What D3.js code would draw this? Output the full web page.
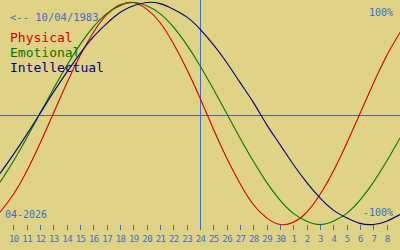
<!DOCTYPE html>
<meta charset="utf-8">
<style>
    html,
    body {
        margin: 0;
        padding: 0;
        background: #e1d386;
    }

    text {
        font-family: "DejaVu Sans Mono", monospace;
    }
</style>
<svg id="canvas" width="400" height="250"></svg>
<script src="https://d3js.org/d3.v7.min.js"></script>
<script>
    // days shown: 9 April 2026 (left edge) .. 9 May 2026 (right edge)
    var days = d3.range(9, 40);
    var tickDays = d3.range(10, 39);
    var tickLabels = ["10", "11", "12", "13", "14", "15", "16", "17", "18", "19", "20",
        "21", "22", "23", "24", "25", "26", "27", "28", "29", "30",
        "1", "2", "3", "4", "5", "6", "7", "8"];
    var today = 24;

    // values in percent, one per day
    var physical = [-89, -73, -52, -27, 0, 27, 52, 73, 89, 98, 100, 94, 82, 63, 40, 14,
        -14, -40, -63, -82, -94, -100, -98, -89, -73, -52, -27, 0, 27, 52, 73];
    var emotional = [-62, -43, -22, 0, 22, 43, 62, 78, 90, 97, 100, 97, 90, 78, 62, 43,
        22, 0, -22, -43, -62, -78, -90, -97, -100, -97, -90, -78, -62, -43, -22];
    var intellectual = [-54, -37, -19, 0, 19, 37, 54, 69, 81, 91, 97, 100, 99, 94, 87, 76,
        62, 46, 28, 10, -10, -28, -46, -62, -76, -87, -94, -99, -100, -97, -91];

    var series = [
        { name: "Physical", values: physical, color: "#d40000" },
        { name: "Emotional", values: emotional, color: "#007800" },
        { name: "Intellectual", values: intellectual, color: "#00007a" }
    ];

    var svg = d3.select("svg"),
        width = +svg.attr("width"),
        height = +svg.attr("height");

    var blue = "#3a6ec4";

    var x = d3.scaleLinear().domain([9, 39]).range([0, width]);
    var y = d3.scaleLinear().domain([-100, 100]).range([224.5, 2.5]);

    // zero line
    svg.append("line")
        .attr("x1", 0).attr("x2", width)
        .attr("y1", 115.5).attr("y2", 115.5)
        .attr("stroke", "#5a6472")
        .attr("stroke-width", 1);

    // today marker
    svg.append("line")
        .attr("x1", x(today) + 0.5).attr("x2", x(today) + 0.5)
        .attr("y1", 0).attr("y2", 230)
        .attr("stroke", blue)
        .attr("stroke-width", 1);

    var line = d3.line()
        .x(function(d, i) { return x(days[i]); })
        .y(function(d) { return y(d); })
        .curve(d3.curveNatural);

    svg.append("g")
        .selectAll("path")
        .data(series)
        .enter().append("path")
        .attr("d", function(s) { return line(s.values); })
        .attr("fill", "none")
        .attr("stroke", function(s) { return s.color; })
        .attr("stroke-width", 1.1);

    // day axis
    var axis = svg.append("g");
    axis.selectAll("line")
        .data(tickDays)
        .enter().append("line")
        .attr("x1", function(d) { return Math.round(x(d)) + 0.5; })
        .attr("x2", function(d) { return Math.round(x(d)) + 0.5; })
        .attr("y1", 225).attr("y2", 230)
        .attr("stroke", blue);
    axis.selectAll("text")
        .data(tickDays)
        .enter().append("text")
        .attr("x", function(d) { return x(d) + 0.5; })
        .attr("y", 242)
        .attr("text-anchor", "middle")
        .attr("font-size", 9)
        .attr("letter-spacing", -0.6)
        .attr("fill", blue)
        .text(function(d, i) { return tickLabels[i]; });

    // labels
    svg.append("text")
        .attr("x", 10).attr("y", 21)
        .attr("font-size", 10.5)
        .attr("fill", blue)
        .text("<-- 10/04/1983");

    svg.append("text")
        .attr("x", 393).attr("y", 16)
        .attr("text-anchor", "end")
        .attr("font-size", 10)
        .attr("fill", blue)
        .text("100%");

    svg.append("text")
        .attr("x", 393).attr("y", 216)
        .attr("text-anchor", "end")
        .attr("font-size", 10)
        .attr("fill", blue)
        .text("-100%");

    svg.append("text")
        .attr("x", 5).attr("y", 218)
        .attr("font-size", 10)
        .attr("fill", blue)
        .text("04-2026");

    svg.append("g")
        .selectAll("text")
        .data(series)
        .enter().append("text")
        .attr("x", 10)
        .attr("y", function(s, i) { return 42 + i * 15; })
        .attr("font-size", 13)
        .attr("fill", function(s) { return s.color; })
        .text(function(s) { return s.name; });
</script>
